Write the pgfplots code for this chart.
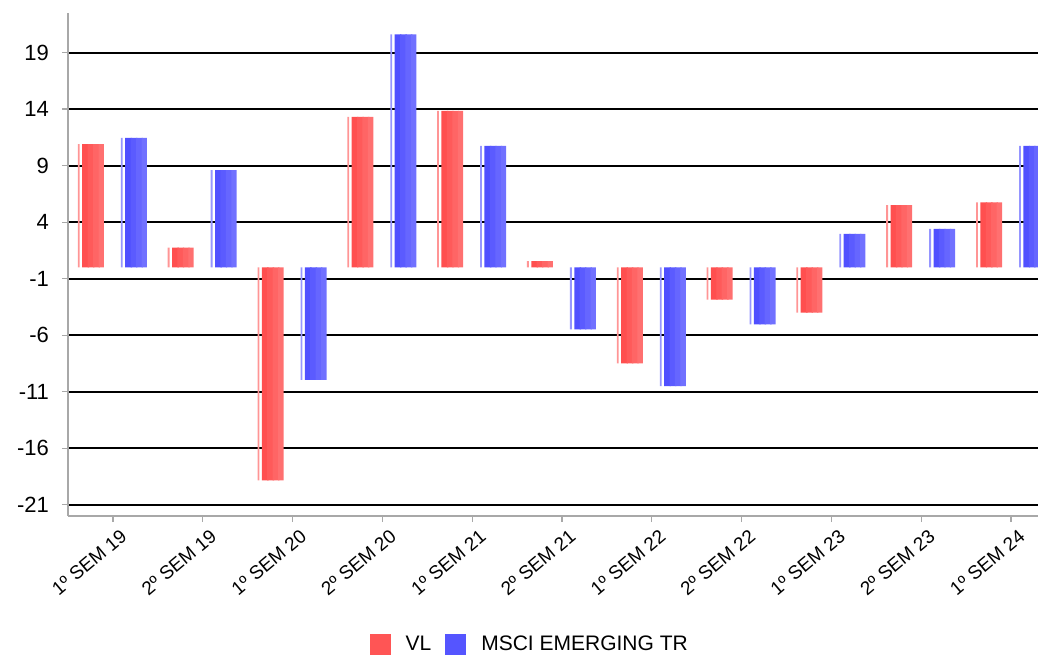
\documentclass[border=0pt]{standalone}
\usepackage{fontspec}
\setmainfont{Liberation Sans}
\usepackage{pgfplots}
\pgfplotsset{compat=1.18}
\definecolor{vlA}{HTML}{FF4F4F}
\definecolor{vlB}{HTML}{FF5A5A}
\definecolor{vlC}{HTML}{FF6565}
\definecolor{vlD}{HTML}{FF7070}
\definecolor{vlL}{HTML}{FF9595}
\definecolor{vlleg}{HTML}{FF5555}
\definecolor{msA}{HTML}{5050FF}
\definecolor{msB}{HTML}{5B5BFF}
\definecolor{msC}{HTML}{6666FF}
\definecolor{msD}{HTML}{7171FF}
\definecolor{msL}{HTML}{9595FF}
\definecolor{msleg}{HTML}{5555FF}
\definecolor{axgray}{HTML}{A8A8A8}

\pgfplotstableread{
x vl msci
0 10.9 11.45
1 1.75 8.6
2 -18.85 -9.95
3 13.3 20.6
4 13.85 10.75
5 0.55 -5.5
6 -8.5 -10.5
7 -2.85 -5.05
8 -4.0 2.95
9 5.5 3.4
10 5.75 10.75
}\datatable

\pgfplotsset{slice/.style={ybar, bar width=3.4pt, draw=none, forget plot}}

\begin{document}
\begin{tikzpicture}
\begin{axis}[
  name=ax,
  scale only axis,
  width=485pt, height=251.5pt,
  xmin=-0.5, xmax=10.3,
  ymin=-22, ymax=22.5,
  axis x line*=bottom, axis y line*=left,
  axis line style={axgray, line width=0.7pt},
  tick style={axgray, line width=0.6pt},
  major tick length=3pt,
  tick align=outside,
  ytick={-21,-16,-11,-6,-1,4,9,14,19},
  yticklabels={-21,-16,-11,-6,-1,4,9,14,19},
  xtick={0,...,10},
  xticklabels={1º SEM 19,2º SEM 19,1º SEM 20,2º SEM 20,1º SEM 21,2º SEM 21,1º SEM 22,2º SEM 22,1º SEM 23,2º SEM 23,1º SEM 24},
  yticklabel style={font=\fontsize{11}{11}\selectfont, xshift=-3pt},
  xticklabel style={font=\fontsize{9.5}{9.5}\selectfont, rotate=40, anchor=north east, xshift=4pt, yshift=-1pt},
  ymajorgrids,
  grid style={black, line width=1pt},
  clip=true,
  legend style={at={(0.477,-0.256)}, anchor=center, draw=none, fill=none,
    legend columns=-1, font=\fontsize{10.5}{10.5}\selectfont,
    /tikz/every even column/.append style={column sep=5pt}},
]
% VL (red) bars: main bar in four shaded slices, thin light stripe at the left
\addplot[ybar, bar width=3.4pt, bar shift=-13.65pt, draw=none, fill=vlA,
  legend image code/.code={\fill[vlleg] (0pt,-5.25pt) rectangle (10.5pt,5.25pt); \path (16pt,0pt);}]
  table[x=x, y=vl] {\datatable};
\addlegendentry{VL}
% MSCI (blue) first slice
\addplot[ybar, bar width=3.4pt, bar shift=7.85pt, draw=none, fill=msA,
  legend image code/.code={\fill[msleg] (0pt,-5.25pt) rectangle (10.5pt,5.25pt); \path (16pt,0pt);}]
  table[x=x, y=msci] {\datatable};
\addlegendentry{MSCI EMERGING TR}
\addplot[slice, bar shift=-10.95pt, fill=vlB] table[x=x, y=vl] {\datatable};
\addplot[slice, bar shift=-8.25pt, fill=vlC] table[x=x, y=vl] {\datatable};
\addplot[slice, bar shift=-5.85pt, fill=vlD, bar width=2.7pt] table[x=x, y=vl] {\datatable};
\addplot[slice, bar shift=-17.05pt, fill=vlL, bar width=0.9pt] table[x=x, y=vl] {\datatable};
\addplot[slice, bar shift=10.55pt, fill=msB] table[x=x, y=msci] {\datatable};
\addplot[slice, bar shift=13.25pt, fill=msC] table[x=x, y=msci] {\datatable};
\addplot[slice, bar shift=15.65pt, fill=msD, bar width=2.7pt] table[x=x, y=msci] {\datatable};
\addplot[slice, bar shift=4.45pt, fill=msL, bar width=0.9pt] table[x=x, y=msci] {\datatable};
\end{axis}
\pgfresetboundingbox
\path ([xshift=-34pt,yshift=-71pt]ax.south west) rectangle ([yshift=6.5pt]ax.north east);
\end{tikzpicture}
\end{document}
